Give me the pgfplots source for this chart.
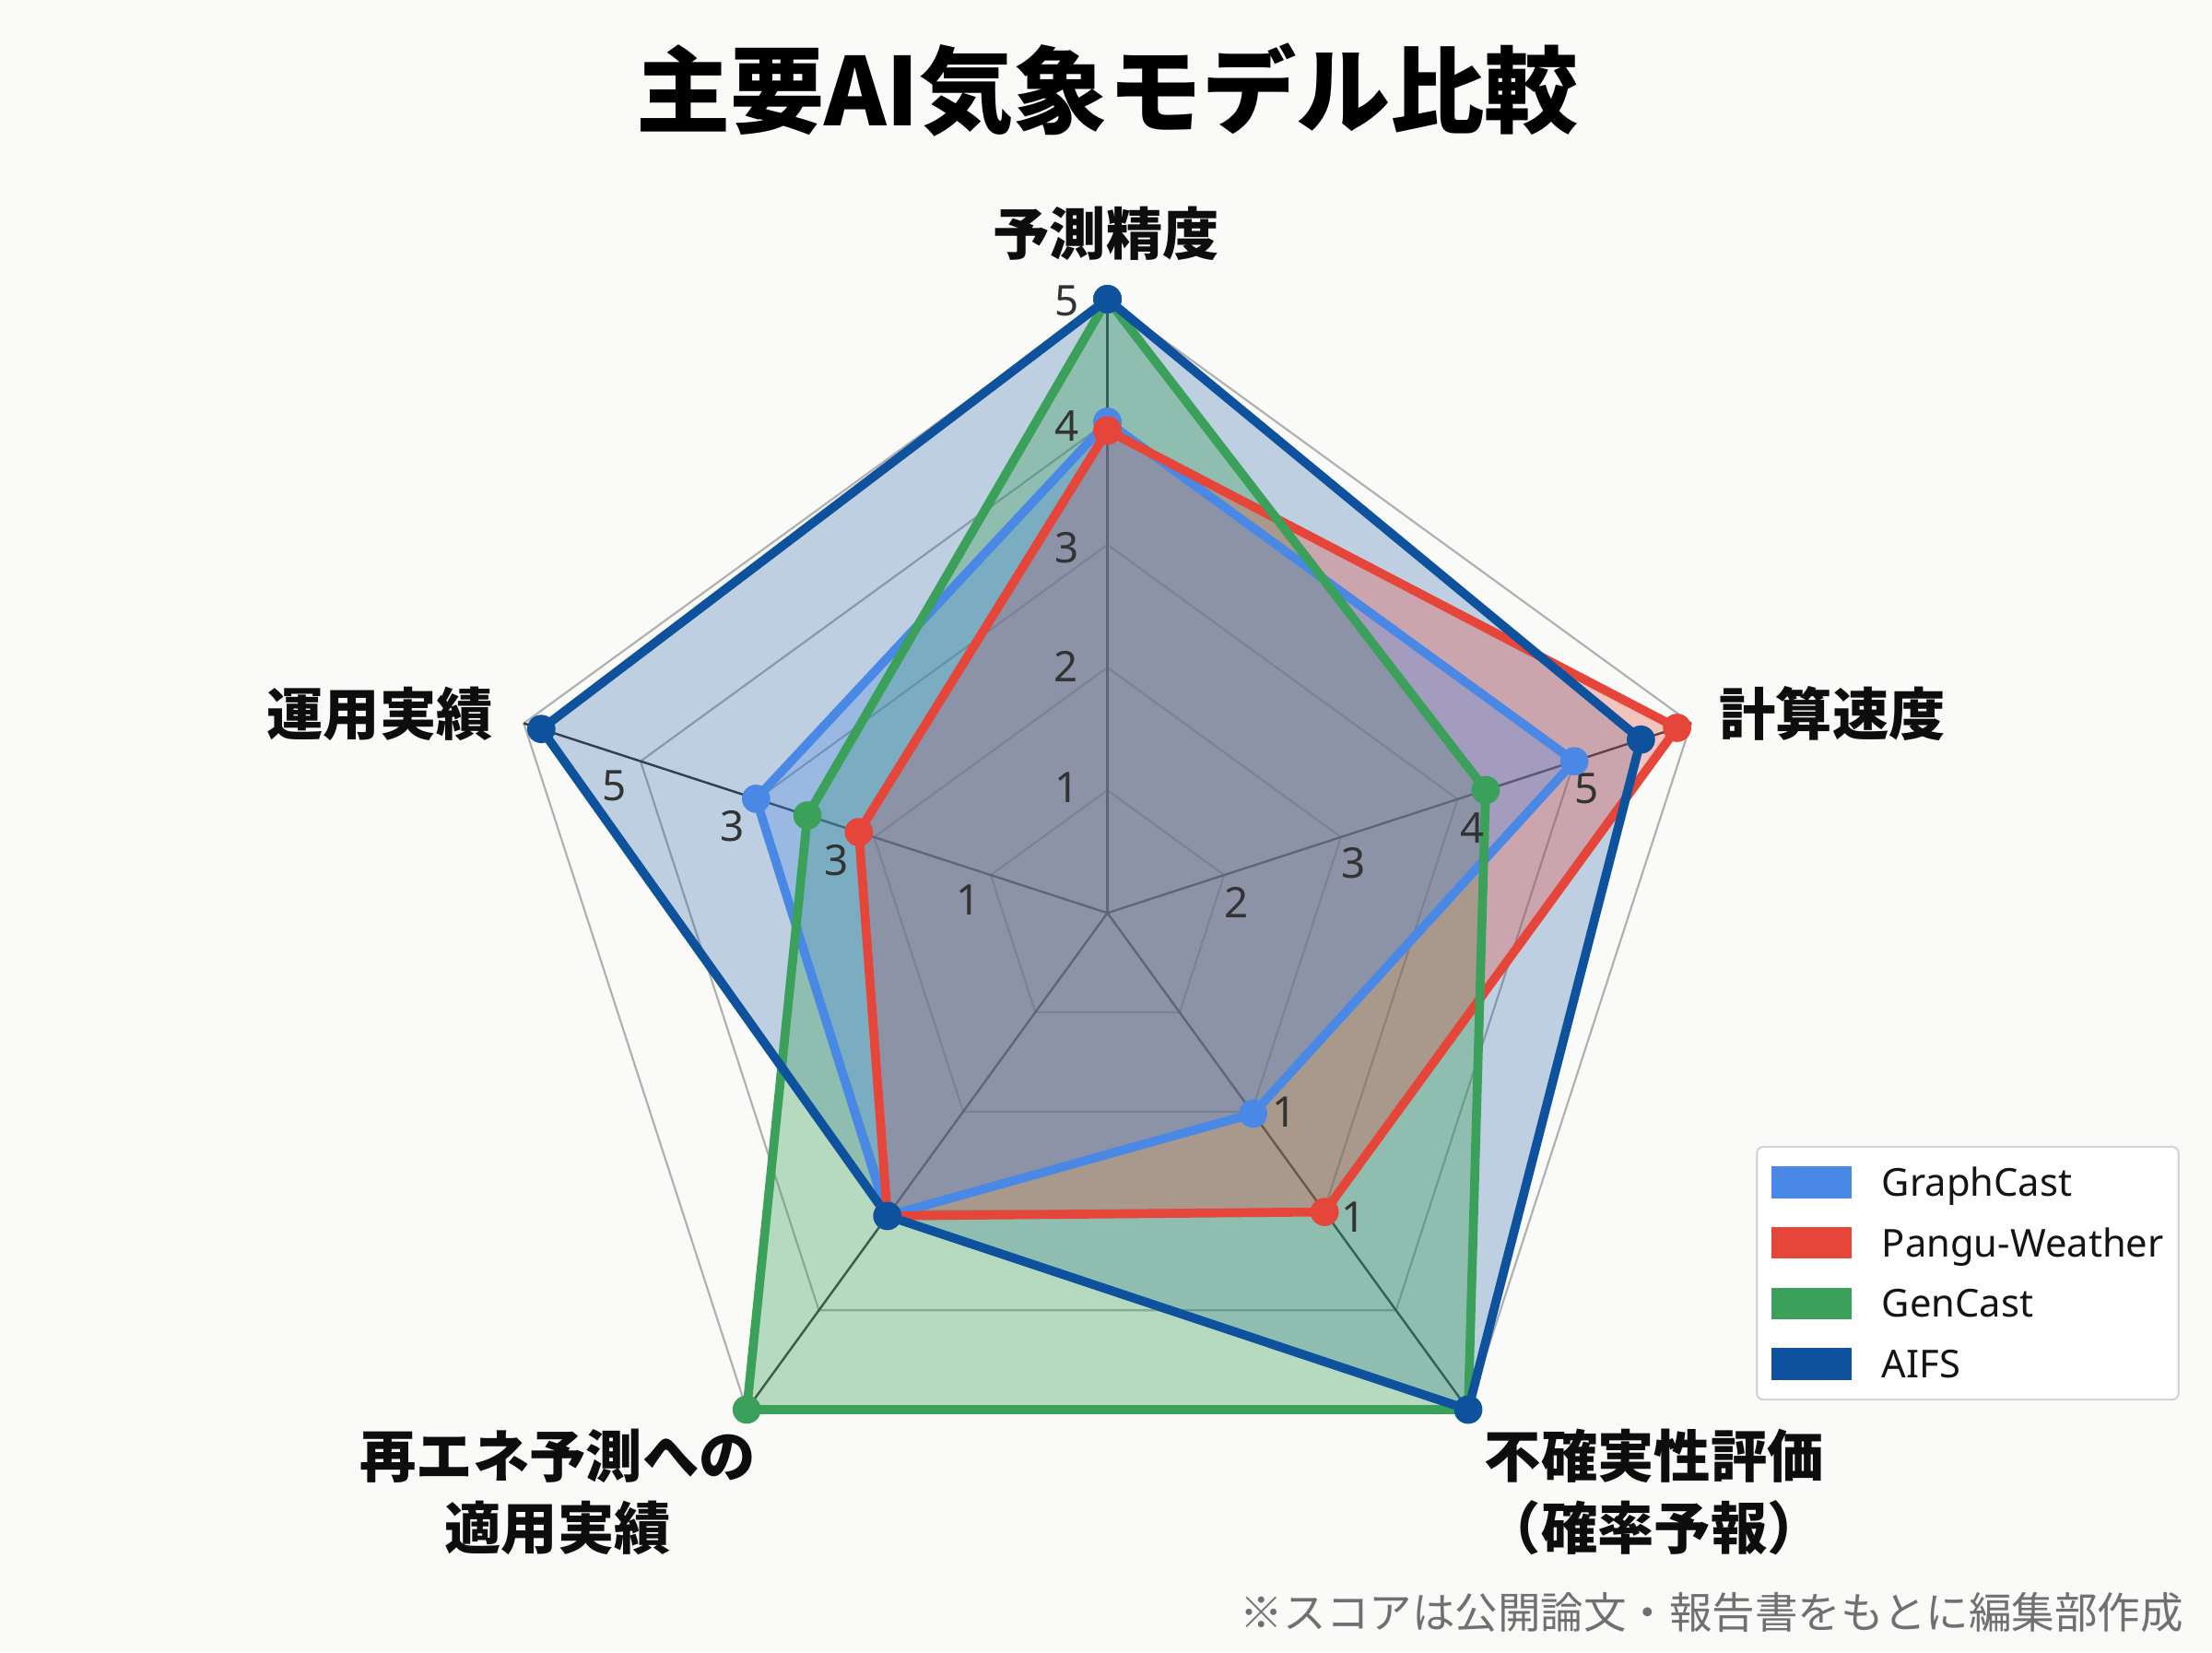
\documentclass[border=0pt]{standalone}
\usepackage{pgfplots}
\usepackage{pgfplotstable}
\pgfplotsset{compat=1.18}
\usepackage{fontspec}
\setmainfont{Noto Sans CJK JP}[BoldFont={Noto Sans CJK JP Black}]
\newfontfamily\latinfont{Noto Sans}
\definecolor{gcblue}{HTML}{4A88E6}
\definecolor{pgred}{HTML}{E6463A}
\definecolor{gngreen}{HTML}{3AA05A}
\definecolor{aifsblue}{HTML}{0E529E}
\definecolor{bgc}{RGB}{250,250,248}
\definecolor{gridc}{HTML}{B0B0B0}
\definecolor{spokec}{HTML}{3A3A3A}
\definecolor{tickc}{HTML}{333333}
\definecolor{notec}{HTML}{707070}
% scores: angle of the axis (90=予測精度, 18=計算速度, -54=不確実性評価, -126=再エネ予測への適用実績, 162=運用実績)
\pgfplotstableread{
angle score
90 4.0
18 4.0
-54 2.02
-126 3.05
162 3.01
90 4.0
}\gcdata
\pgfplotstableread{
angle score
90 3.93
18 4.88
-54 3.01
-126 3.05
162 2.13
90 3.93
}\pgdata
\pgfplotstableread{
angle score
90 5
18 3.24
-54 5
-126 5
162 2.57
90 5
}\gndata
\pgfplotstableread{
angle score
90 5
18 4.57
-54 5
-126 3.05
162 4.85
90 5
}\aifsdata
\pgfplotsset{
  area/.style 2 args={data cs=polar, draw=none, fill=#1, fill opacity=#2, no marks, forget plot},
  outline/.style={data cs=polar, line width=1.8pt, line join=round, line cap=round,
    draw=#1, fill=none,
    mark=*, mark size=2.65pt,
    mark options={solid, fill=#1, draw=#1, line width=0.4pt},
    forget plot},
  gridline/.style={data cs=polar, draw=gridc, line width=0.4pt, no marks, forget plot},
  spoke/.style={data cs=polar, draw=spokec, line width=0.45pt, no marks, forget plot},
}
\newcommand{\ticklab}[3]{\node[font=\latinfont\fontsize{8.5}{10}\selectfont, text=tickc, inner sep=0pt] at (axis cs:#1,#2) {#3};}
\begin{document}
\begin{tikzpicture}
\useasboundingbox (0,0) rectangle (15.68,11.71);
\fill[bgc] (0,0) rectangle (15.68,11.71);
\begin{axis}[
  at={(0,0)}, anchor=south west,
  scale only axis, width=15.68cm, height=11.71cm,
  xmin=-9.023, xmax=9.0, ymin=-6.023, ymax=7.437,
  hide axis, clip=false,
  legend cell align=left,
  legend style={
    at={(axis cs:5.283,-1.897)}, anchor=north west,
    draw=black!17, line width=0.4pt, rounded corners=0.045cm, fill=white,
    font=\latinfont\fontsize{7.75}{9.3}\selectfont, text=black!92,
    inner xsep=0.106cm, inner ysep=0.14cm,
    column sep=0.213cm, row sep=0.205cm,
    nodes={inner sep=0pt, text height=0.196cm, text depth=0pt},
  },
]
% grid pentagons
\addplot[gridline] coordinates {(90,1) (18,1) (-54,1) (-126,1) (162,1) (90,1)};
\addplot[gridline] coordinates {(90,2) (18,2) (-54,2) (-126,2) (162,2) (90,2)};
\addplot[gridline] coordinates {(90,3) (18,3) (-54,3) (-126,3) (162,3) (90,3)};
\addplot[gridline] coordinates {(90,4) (18,4) (-54,4) (-126,4) (162,4) (90,4)};
\addplot[gridline] coordinates {(90,5) (18,5) (-54,5) (-126,5) (162,5) (90,5)};
% spokes
\addplot[spoke] coordinates {(90,0) (90,5)};
\addplot[spoke] coordinates {(18,0) (18,5)};
\addplot[spoke] coordinates {(-54,0) (-54,5)};
\addplot[spoke] coordinates {(-126,0) (-126,5)};
\addplot[spoke] coordinates {(162,0) (162,5)};
% translucent areas
\addplot[area={aifsblue}{0.25}] table[x=angle, y=score] {\aifsdata};
\addplot[area={gngreen}{0.35}] table[x=angle, y=score] {\gndata};
\addplot[area={pgred}{0.3}] table[x=angle, y=score] {\pgdata};
\addplot[area={gcblue}{0.3}] table[x=angle, y=score] {\gcdata};
% outlines and markers
\addplot[outline=gcblue] table[x=angle, y=score] {\gcdata};
\addplot[outline=pgred] table[x=angle, y=score] {\pgdata};
\addplot[outline=gngreen] table[x=angle, y=score] {\gndata};
\addplot[outline=aifsblue] table[x=angle, y=score] {\aifsdata};
% legend
\addlegendimage{legend image code/.code={\fill[gcblue, sharp corners] (0cm,-0.105cm) rectangle (0.554cm,0.105cm);}}
\addlegendentry{GraphCast}
\addlegendimage{legend image code/.code={\fill[pgred, sharp corners] (0cm,-0.105cm) rectangle (0.554cm,0.105cm);}}
\addlegendentry{Pangu-Weather}
\addlegendimage{legend image code/.code={\fill[gngreen, sharp corners] (0cm,-0.105cm) rectangle (0.554cm,0.105cm);}}
\addlegendentry{GenCast}
\addlegendimage{legend image code/.code={\fill[aifsblue, sharp corners] (0cm,-0.105cm) rectangle (0.554cm,0.105cm);}}
\addlegendentry{AIFS}
% tick labels (as printed in the source)
\ticklab{-0.329}{4.984}{5}
\ticklab{-0.329}{3.969}{4}
\ticklab{-0.329}{2.977}{3}
\ticklab{-0.337}{2.007}{2}
\ticklab{-0.333}{1.023}{1}
\ticklab{1.049}{0.085}{2}
\ticklab{2.003}{0.408}{3}
\ticklab{2.971}{0.690}{4}
\ticklab{3.908}{1.013}{5}
\ticklab{-1.136}{0.106}{1}
\ticklab{-2.209}{0.430}{3}
\ticklab{-3.053}{0.710}{3}
\ticklab{-4.020}{1.034}{5}
\ticklab{1.441}{-1.623}{1}
\ticklab{2.003}{-2.478}{1}
% axis labels
\node[font=\bfseries\fontsize{11.4}{14.5}\selectfont, text=black!95, inner sep=0pt] at (axis cs:-0.011,5.534) {予測精度};
\node[font=\bfseries\fontsize{11.4}{14.5}\selectfont, text=black!95, inner sep=0pt, anchor=west] at (axis cs:4.977,1.621) {計算速度};
\node[font=\bfseries\fontsize{11.4}{14.5}\selectfont, text=black!95, inner sep=0pt, anchor=east] at (axis cs:-4.998,1.623) {運用実績};
\node[font=\bfseries\fontsize{11.4}{14.5}\selectfont, text=black!95, inner sep=0pt, align=center] at (axis cs:-4.479,-4.718) {再エネ予測への\\適用実績};
\node[font=\bfseries\fontsize{11.4}{14.5}\selectfont, text=black!95, inner sep=0pt, align=center] at (axis cs:4.454,-4.718) {不確実性評価\\（確率予報）};
% title
\node[font=\bfseries\fontsize{19}{22}\selectfont, text=black, inner sep=0pt] at (axis cs:0,6.705) {主要AI気象モデル比較};
% note
\node[font=\fontsize{8.65}{10}\selectfont, text=notec, inner sep=0pt, anchor=east] at (axis cs:8.773,-5.699) {※スコアは公開論文・報告書をもとに編集部作成};
\end{axis}
\end{tikzpicture}
\end{document}
